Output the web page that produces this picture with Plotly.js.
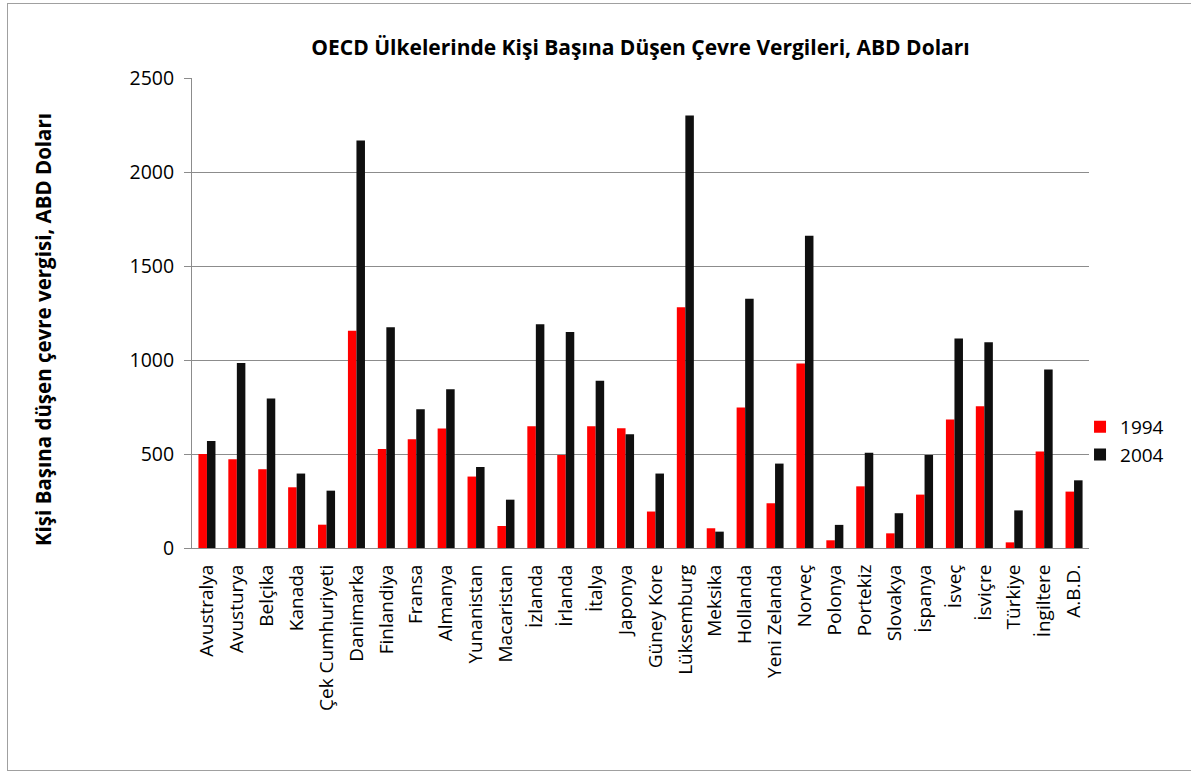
<!DOCTYPE html>
<html>
<head>
<meta charset="utf-8">
<script src="https://cdn.plot.ly/plotly-3.0.1.min.js"></script>
<style>
  html, body { margin: 0; padding: 0; background: #fff; overflow: hidden; }
  #chart { position: absolute; left: 0; top: 0; width: 1191px; height: 772px; }
  #frame { position: absolute; left: 7px; top: 3px; width: 1200px; height: 766px; border: 1px solid #a0a0a0; pointer-events: none; }
</style>
</head>
<body>
<div id="chart"></div>
<div id="frame"></div>
<script>
const countries = ["Avustralya","Avusturya","Belçika","Kanada","Çek Cumhuriyeti","Danimarka","Finlandiya","Fransa","Almanya","Yunanistan","Macaristan","İzlanda","İrlanda","İtalya","Japonya","Güney Kore","Lüksemburg","Meksika","Hollanda","Yeni Zelanda","Norveç","Polonya","Portekiz","Slovakya","İspanya","İsveç","İsviçre","Türkiye","İngiltere","A.B.D."];
const values1994 = [500,472,419,323,124,1156,527,578,635,380,117,647,495,647,637,194,1280,105,747,238,982,41,328,78,284,683,754,30,513,300];
const values2004 = [569,984,795,396,305,2167,1174,738,844,431,257,1190,1149,890,605,396,2301,87,1326,449,1661,123,506,185,495,1114,1094,200,949,360];
const seriesNames = ["1994","2004"];
const yTicks = [0,500,1000,1500,2000,2500];

const FONT = "'Open Sans', 'Noto Sans', sans-serif";

const traces = [
  { type: "bar", name: seriesNames[0], x: countries, y: values1994, marker: { color: "#ff0000" } },
  { type: "bar", name: seriesNames[1], x: countries, y: values2004, marker: { color: "#0f0f0f" } }
];

const layout = {
  width: 1191, height: 772,
  margin: { l: 192, r: 102, t: 78, b: 224 },
  paper_bgcolor: "#ffffff", plot_bgcolor: "#ffffff",
  barmode: "group", bargap: 0.43, bargroupgap: 0,
  font: { family: FONT, size: 19, color: "#000" },
  title: {
    text: "<b>OECD Ülkelerinde Kişi Başına Düşen Çevre Vergileri, ABD Doları</b>",
    font: { family: FONT, size: 21, color: "#000" },
    x: 0.5, xref: "paper", xanchor: "center",
    y: 1 - 48/772, yref: "container", yanchor: "middle"
  },
  xaxis: {
    type: "category",
    tickangle: -90,
    tickfont: { family: FONT, size: 19, color: "#000" },
    showline: true, linecolor: "#8c8c8c", linewidth: 1,
    showgrid: false, ticks: "", ticklabelstandoff: 8,
    fixedrange: true
  },
  yaxis: {
    range: [0, 2500],
    tickvals: yTicks,
    ticktext: yTicks.map(String),
    tickfont: { family: FONT, size: 19.5, color: "#000" },
    showline: true, linecolor: "#8c8c8c", linewidth: 1,
    showgrid: true, gridcolor: "#8c8c8c", gridwidth: 1,
    ticks: "outside", ticklen: 7, tickcolor: "#8c8c8c",
    ticklabelstandoff: 6,
    zeroline: false, fixedrange: true
  },
  legend: {
    x: 0.99, xanchor: "left", y: 0.228, yanchor: "middle",
    font: { family: FONT, size: 19, color: "#000" },
    bgcolor: "rgba(0,0,0,0)", tracegroupgap: 0
  },
  annotations: [{
    text: "<b>Kişi Başına düşen çevre vergisi, ABD Doları</b>",
    textangle: -90,
    xref: "paper", yref: "paper",
    x: (43 - 192) / 897, y: (548 - 330) / 470,
    xanchor: "center", yanchor: "middle",
    showarrow: false,
    font: { family: FONT, size: 20.5, color: "#000" }
  }],
  showlegend: true
};

Plotly.newPlot("chart", traces, layout, { displayModeBar: false, staticPlot: true });
</script>
</body>
</html>
